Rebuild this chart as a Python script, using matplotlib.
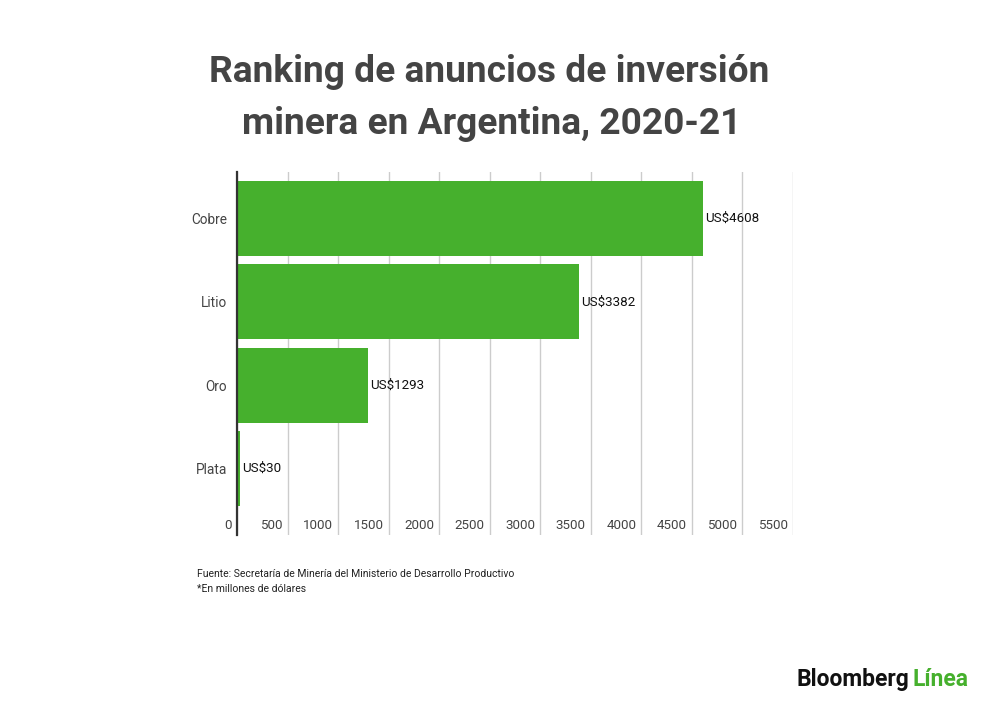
import matplotlib.pyplot as plt
import matplotlib.transforms as mtransforms

categorias = ["Cobre", "Litio", "Oro", "Plata"]
valores = [4608, 3382, 1293, 30]
etiquetas = ["US$4608", "US$3382", "US$1293", "US$30"]
ticks_x = [0, 500, 1000, 1500, 2000, 2500, 3000, 3500, 4000, 4500, 5000, 5500]

plt.rcParams['font.family'] = ['Roboto', 'DejaVu Sans']
verde = '#46b02d'

fig = plt.figure(figsize=(10, 7.07), dpi=100)
ax = fig.add_axes([0.237, 0.2433, 0.556, 0.5134])

pos = list(range(len(categorias)))
ax.barh(pos, valores, height=0.9, color=verde, zorder=2)
ax.set_xlim(0, 5500)
ax.set_ylim(3.8, -0.56)

for s in ['top', 'right', 'bottom']:
    ax.spines[s].set_visible(False)
ax.spines['left'].set_color('#333333')
ax.spines['left'].set_linewidth(1.6)
ax.spines['left'].set_zorder(3)

ax.set_xticks(ticks_x)
ax.set_xticklabels([])
ax.tick_params(axis='x', length=0)
ax.xaxis.grid(True, color='#cccccc', linewidth=1, zorder=0)

ax.set_yticks(pos)
ax.set_yticklabels(categorias, fontsize=9.8, color='#444444')
ax.tick_params(axis='y', length=0, pad=7)

# etiquetas del eje x: alineadas a la derecha, junto a cada línea
trans = mtransforms.blended_transform_factory(ax.transData, ax.transAxes)
trans = mtransforms.offset_copy(trans, fig=fig, x=-5, y=0, units='dots')
for t in ticks_x:
    ax.text(t, 0.025, str(t), transform=trans, ha='right', va='center',
            fontsize=9.6, color='#444444')

val_trans = mtransforms.offset_copy(ax.transData, fig=fig, x=2, y=0, units='dots')
for p, v, e in zip(pos, valores, etiquetas):
    ax.text(v, p, e, transform=val_trans, ha='left', va='center',
            fontsize=9.6, color='#111111')

fig.text(0.489, 1 - 82 / 707, "Ranking de anuncios de inversión", ha='center',
         va='baseline', fontsize=26.7, fontweight='bold', color='#444444')
fig.text(0.492, 1 - 134 / 707, "minera en Argentina, 2020-21", ha='center',
         va='baseline', fontsize=26.7, fontweight='bold', color='#444444')

fig.text(0.197, 1 - 574 / 707, "Fuente: Secretaría de Minería del Ministerio de Desarrollo Productivo",
         ha='left', va='center', fontsize=7.5, color='#222222')
fig.text(0.197, 1 - 589 / 707, "*En millones de dólares",
         ha='left', va='center', fontsize=7.5, color='#222222')

t1 = fig.text(0.797, 1 - 686 / 707, "Bloomberg", ha='left', va='baseline',
              fontsize=16.5, fontweight='bold', color='#111111')
fig.canvas.draw()
bb = t1.get_window_extent()
fig.text(bb.x1 / fig.bbox.width + 0.003, 1 - 686 / 707, "Línea", ha='left', va='baseline',
         fontsize=16.5, fontweight='bold', color=verde)

fig.savefig('out.png', dpi=100, facecolor='white')
